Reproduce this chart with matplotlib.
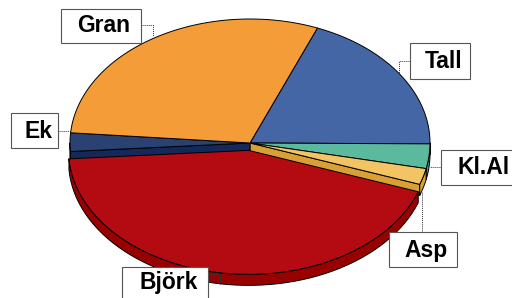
import numpy as np
import matplotlib.pyplot as plt
from matplotlib.patches import Polygon, Rectangle

# slices, clockwise from the top (percent)
labels = ['Tall', 'Kl.Al', 'Asp', 'Björk', 'Ek', 'Gran']
values = [19.0, 3.2, 2.1, 43.5, 2.4, 29.8]
top_colors = ['#4466A4', '#5BB99D', '#F3C464', '#B40A12', '#2A4272', '#F39C38']
side_colors = ['#2F4C80', '#3F9A80', '#D9A035', '#990000', '#14295A', '#C87A20']
explode = [0, 0, 0, 0.06, 0, 0]

# label boxes (x0, y0, x1, y1) in pixel coords and leader lines
boxes = {
    'Gran': (61, 9, 141, 43),
    'Tall': (410, 43, 470, 79),
    'Ek': (11, 113, 58, 148),
    'Kl.Al': (441, 150, 530, 185),
    'Asp': (389, 232, 457, 267),
    'Björk': (122, 267, 208, 310),
}
text_pos = {
    'Gran': (104, 26), 'Tall': (444, 61), 'Ek': (38, 131),
    'Kl.Al': (484, 167), 'Asp': (426, 250), 'Björk': (169, 283),
}
leaders = {
    'Gran': [(141, 25), (153, 25), (153, 36)],
    'Tall': [(410, 61), (399, 61), (399, 73)],
    'Ek': [(58, 131), (70, 131)],
    'Kl.Al': [(441, 167), (430, 167)],
    'Asp': [(422, 232), (422, 192)],
    'Björk': [(208, 274), (220, 274), (220, 284)],
}

cx, cy, rx, ry, depth = 250, 143, 180, 124, 11
start = 68.0

fig = plt.figure(figsize=(5.12, 2.98), dpi=100)
ax = fig.add_axes([0, 0, 1, 1])
ax.set_xlim(0, 512)
ax.set_ylim(298, 0)
ax.axis('off')


def pt(t, dz=0, off=(0, 0)):
    r = np.radians(t)
    return (cx + off[0] + rx * np.cos(r), cy + off[1] - ry * np.sin(r) + dz)


# angle ranges (decreasing t, clockwise)
ranges = []
a = start
for v in values:
    b = a - v * 3.6
    ranges.append((a, b))
    a = b


def slice_offset(i):
    a, b = ranges[i]
    tb = np.radians((a + b) / 2)
    return (explode[i] * rx * np.cos(tb), -explode[i] * ry * np.sin(tb))


def draw_slice(i, z):
    a, b = ranges[i]
    off = slice_offset(i)
    ec = dict(edgecolor='black', linewidth=0.7, joinstyle='round')
    # radial walls facing the viewer (only next to the exploded slice)
    for t, nxt in ((a, i - 1), (b, i + 1)):
        nb = nxt % len(values)
        if explode[nb] > 0 and np.sin(np.radians(t)) < 0:
            c = (cx + off[0], cy + off[1])
            p1 = pt(t, 0, off)
            p2 = pt(t, depth, off)
            wall = [c, p1, p2, (c[0], c[1] + depth)]
            ax.add_patch(Polygon(wall, closed=True, facecolor=side_colors[i], zorder=z, **ec))
    # outer wall where it faces the viewer
    lo, hi = max(b, -180), min(a, 0)
    if hi > lo:
        ts = np.linspace(hi, lo, 60)
        upper = [pt(t, 0, off) for t in ts]
        lower = [pt(t, depth, off) for t in ts[::-1]]
        ax.add_patch(Polygon(upper + lower, closed=True, facecolor=side_colors[i], zorder=z + 0.1, **ec))
    # top face
    ts = np.linspace(a, b, max(int(abs(a - b)), 4))
    c = (cx + off[0], cy + off[1])
    top = [c] + [pt(t, 0, off) for t in ts]
    ax.add_patch(Polygon(top, closed=True, facecolor=top_colors[i], zorder=z + 0.2, **ec))


for i in range(len(values)):
    if explode[i] == 0:
        draw_slice(i, 2)
for i in range(len(values)):
    if explode[i] > 0:
        draw_slice(i, 3)

for lab in labels:
    x0, y0, x1, y1 = boxes[lab]
    ax.add_patch(Rectangle((x0, y0), x1 - x0, y1 - y0, facecolor='white',
                           edgecolor='#555555', linewidth=0.8, zorder=5))
    tx, ty = text_pos[lab]
    ax.text(tx, ty, lab, ha='center', va='center', fontsize=16.5, fontweight='bold',
            family='Liberation Sans', color='black', zorder=6)
    xs, ys = zip(*leaders[lab])
    ax.plot(xs, ys, color='#333333', linewidth=0.7, linestyle=(0, (1, 1)), zorder=4)

fig.savefig('out.png', dpi=100, facecolor='white')
